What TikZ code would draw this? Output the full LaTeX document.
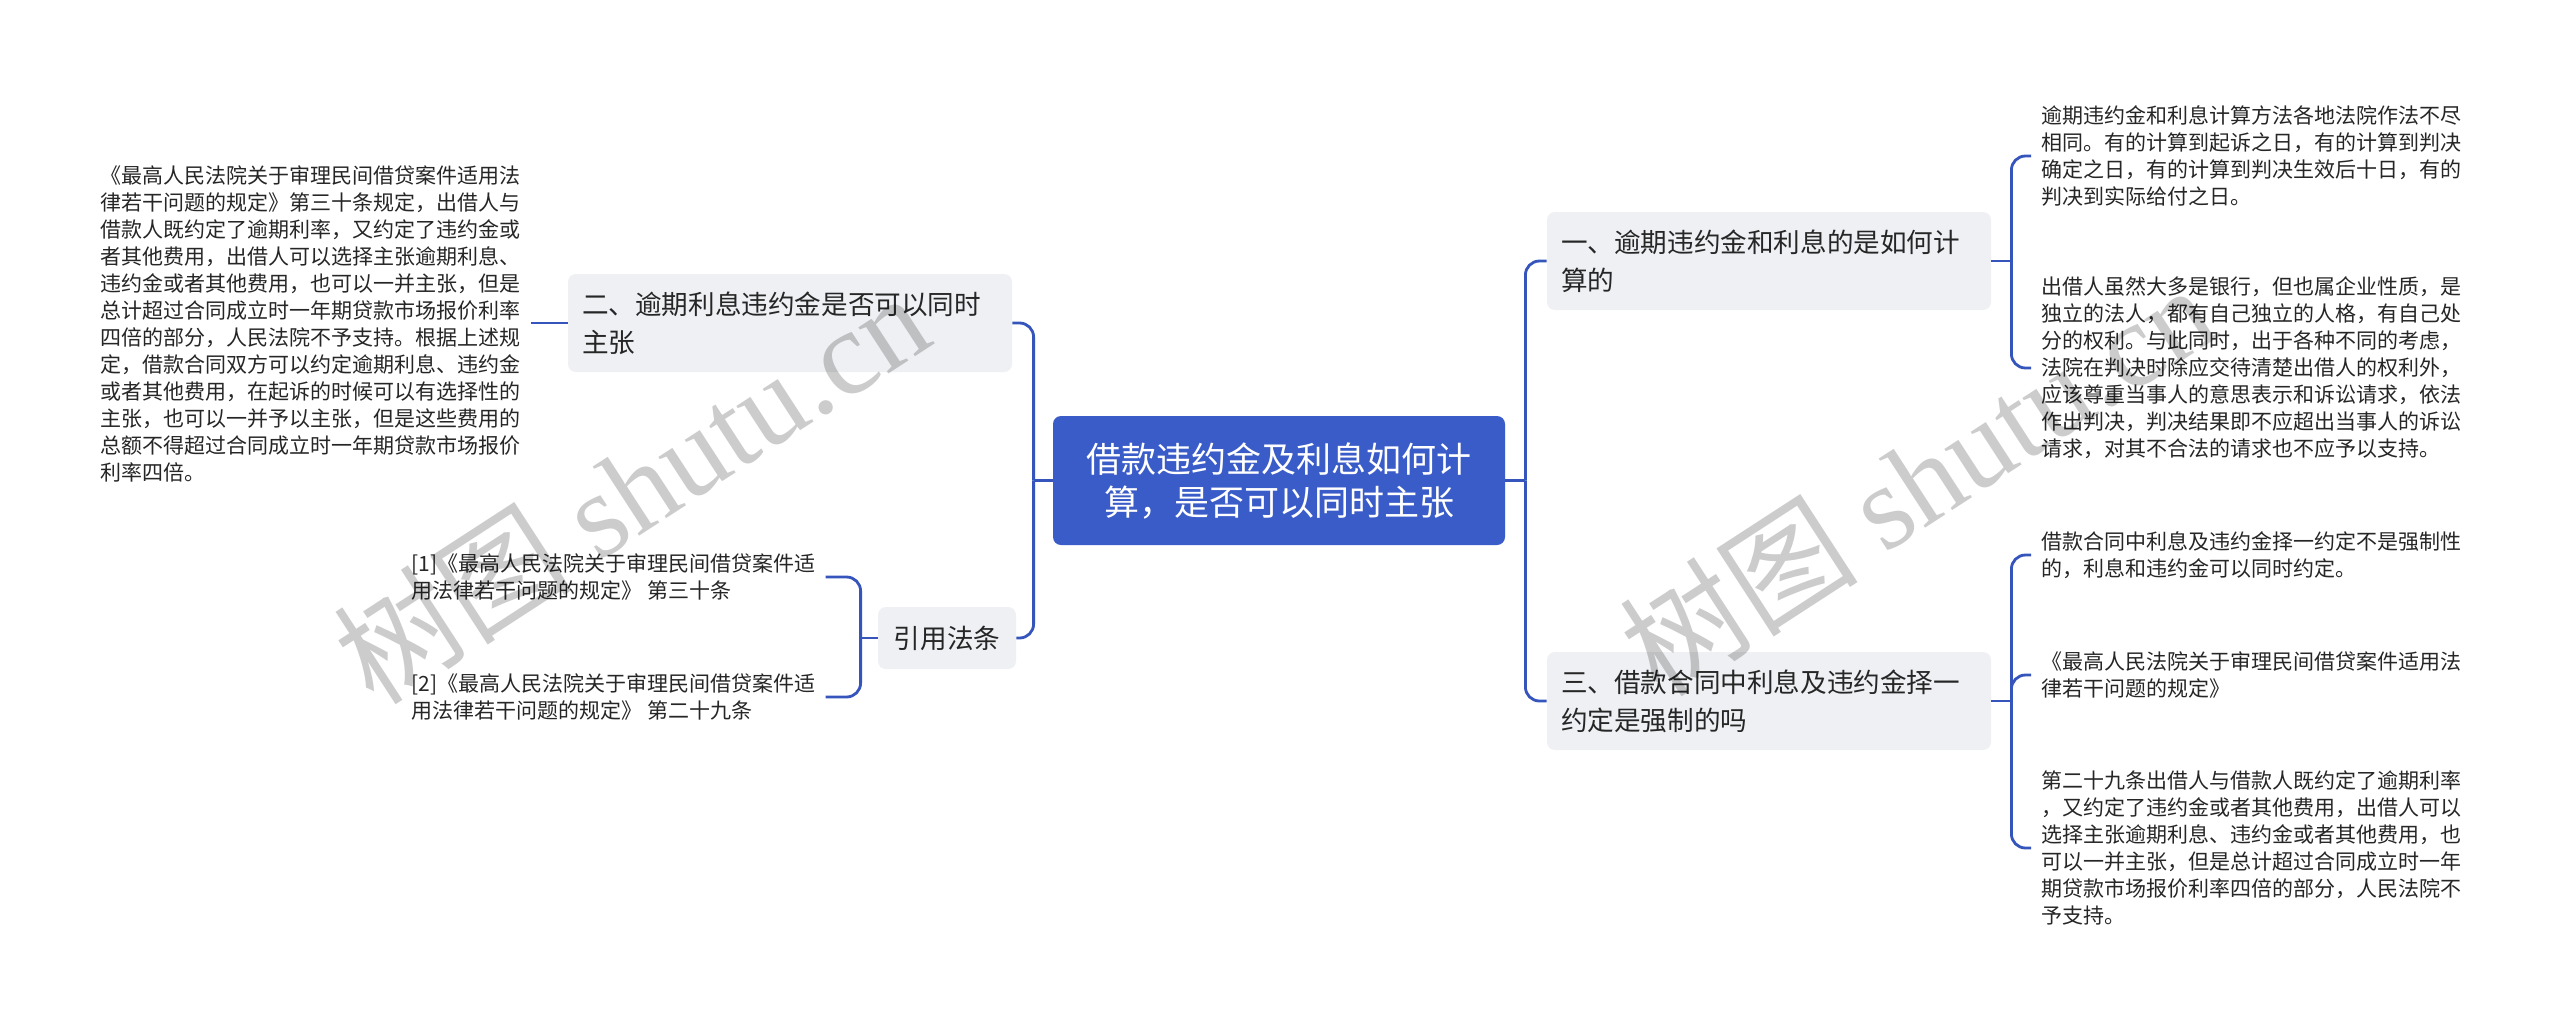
\documentclass[tikz,border=0pt]{standalone}
\usepackage{fontspec}
\setmainfont{Noto Sans CJK SC}
\newfontfamily\wmlatin{Liberation Serif}
\definecolor{mainblue}{HTML}{3A5CC8}
\definecolor{linkblue}{HTML}{3555BD}
\definecolor{boxgray}{HTML}{EEF0F3}
\definecolor{txt}{HTML}{262626}
\begin{document}
\begin{tikzpicture}[x=0.5pt,y=-0.5pt,
  conn/.style={draw=linkblue, line width=1.4pt, rounded corners=7pt},
  central/.style={fill=mainblue, rounded corners=4pt, text=white, align=center, minimum width=226pt, minimum height=64.5pt, font=\fontsize{17.5pt}{21.5pt}\selectfont, inner sep=0pt},
  branch/.style={fill=boxgray, rounded corners=4pt, text=txt, align=left, font=\fontsize{13.3pt}{19pt}\selectfont, inner xsep=7pt, inner ysep=0pt, minimum height=49pt},
  leaf/.style={text=txt, align=left, font=\fontsize{10.5pt}{13.5pt}\selectfont, inner xsep=5pt, inner ysep=2pt},
  wm/.style={text=black, text opacity=0.2, font=\fontsize{60pt}{60pt}\selectfont, inner sep=0pt}
]
\fill[white] (0,0) rectangle (2560,1029);
\useasboundingbox (0,0) rectangle (2560,1029);

% main nodes
\node[central] (center) at (1279,480.5) {借款违约金及利息如何计\\算，是否可以同时主张};
\node[branch, text width=208pt] (two) at (790,323) {二、逾期利息违约金是否可以同时\\主张};
\node[branch, minimum width=69pt, minimum height=31pt] (cite) at (947,638) {引用法条};
\node[branch, text width=208pt] (one) at (1769,261) {一、逾期违约金和利息的是如何计\\算的};
\node[branch, text width=208pt] (three) at (1769,701) {三、借款合同中利息及违约金择一\\约定是强制的吗};

% leaves
\node[leaf, anchor=east] (ll) at (531,324) {《最高人民法院关于审理民间借贷案件适用法\\律若干问题的规定》第三十条规定，出借人与\\借款人既约定了逾期利率，又约定了违约金或\\者其他费用，出借人可以选择主张逾期利息、\\违约金或者其他费用，也可以一并主张，但是\\总计超过合同成立时一年期贷款市场报价利率\\四倍的部分，人民法院不予支持。根据上述规\\定，借款合同双方可以约定逾期利息、违约金\\或者其他费用，在起诉的时候可以有选择性的\\主张，也可以一并予以主张，但是这些费用的\\总额不得超过合同成立时一年期贷款市场报价\\利率四倍。};
\node[leaf, anchor=west] (c1) at (401,577) {[1]《最高人民法院关于审理民间借贷案件适\\用法律若干问题的规定》 第三十条};
\node[leaf, anchor=west] (c2) at (401,697) {[2]《最高人民法院关于审理民间借贷案件适\\用法律若干问题的规定》 第二十九条};
\node[leaf, anchor=west] (la) at (2031,156) {逾期违约金和利息计算方法各地法院作法不尽\\相同。有的计算到起诉之日，有的计算到判决\\确定之日，有的计算到判决生效后十日，有的\\判决到实际给付之日。};
\node[leaf, anchor=west] (lb) at (2031,368) {出借人虽然大多是银行，但也属企业性质，是\\独立的法人，都有自己独立的人格，有自己处\\分的权利。与此同时，出于各种不同的考虑，\\法院在判决时除应交待清楚出借人的权利外，\\应该尊重当事人的意思表示和诉讼请求，依法\\作出判决，判决结果即不应超出当事人的诉讼\\请求，对其不合法的请求也不应予以支持。};
\node[leaf, anchor=west] (lc) at (2031,555) {借款合同中利息及违约金择一约定不是强制性\\的，利息和违约金可以同时约定。};
\node[leaf, anchor=west] (ld) at (2031,675) {《最高人民法院关于审理民间借贷案件适用法\\律若干问题的规定》};
\node[leaf, anchor=west] (le) at (2031,848) {第二十九条出借人与借款人既约定了逾期利率\\，又约定了违约金或者其他费用，出借人可以\\选择主张逾期利息、违约金或者其他费用，也\\可以一并主张，但是总计超过合同成立时一年\\期贷款市场报价利率四倍的部分，人民法院不\\予支持。};

% connectors
\coordinate (lj) at ([xshift=-9.5pt]center.west);
\draw[conn] (two.east) -| (lj);
\draw[conn] (cite.east) -| (lj);
\draw[conn] (lj) -- (center.west);
\coordinate (rj) at ([xshift=10pt]center.east);
\draw[conn] (center.east) -- (rj);
\draw[conn] (rj) |- (one.west);
\draw[conn] (rj) |- (three.west);
\draw[conn] (two.west) -- (two.west -| ll.east);
\coordinate (cj) at ([xshift=-8.5pt]cite.west);
\draw[conn] (cite.west) -- (cj);
\draw[conn] (cj) |- (c1.east);
\draw[conn] (cj) |- (c2.east);
\coordinate (oj) at ([xshift=10pt]one.east);
\draw[conn] (one.east) -- (oj);
\draw[conn] (oj) |- (la.west);
\draw[conn] (oj) |- (lb.west);
\coordinate (tj) at ([xshift=10pt]three.east);
\draw[conn] (three.east) -- (tj);
\draw[conn] (tj) |- (lc.west);
\draw[conn] (tj) |- (ld.west);
\draw[conn] (tj) |- (le.west);

% watermarks
\node[wm, anchor=base west, rotate=33] (wm1) at (374,708) {树图 {\wmlatin shutu.cn}};
\node[wm, anchor=base west, rotate=33] (wm2) at (1660,700) {树图 {\wmlatin shutu.cn}};
\end{tikzpicture}
\end{document}
